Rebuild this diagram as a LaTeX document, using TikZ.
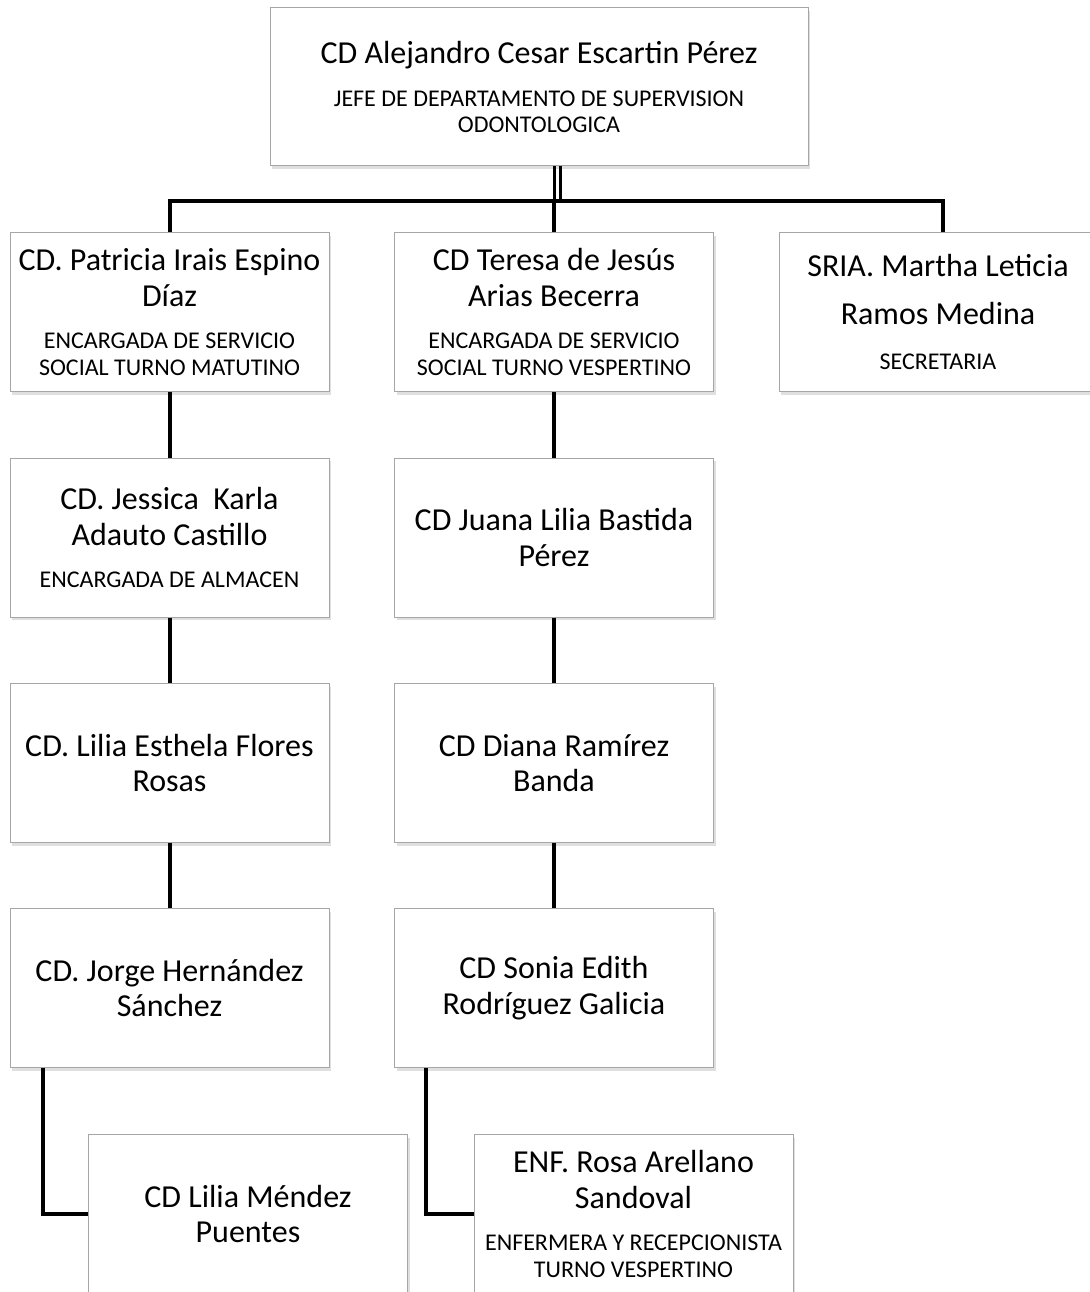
\documentclass[tikz,border=0pt]{standalone}
\usepackage{fontspec}
\setmainfont{Carlito}
\usepackage{tikz}
\usetikzlibrary{shadows}

\newcommand{\nombre}{\fontsize{32}{35.5}\selectfont}
\newcommand{\rol}[1]{\par\vspace{16pt}{\fontsize{24}{26.5}\selectfont #1\par}}

\begin{document}
\begin{tikzpicture}[x=1pt,y=-1pt,
    caja/.style={draw=gray!70, line width=1pt, fill=white, inner sep=0pt,
        minimum width=319pt, minimum height=159pt, text width=312pt, align=flush center,
        font=\nombre, drop shadow={opacity=0.25, shadow xshift=2pt, shadow yshift=-3pt}},
    linea/.style={line width=4pt, black}]
    \useasboundingbox (0,0) rectangle (1089,1292);

    % jefe
    \node[caja, minimum width=538pt, minimum height=158pt, text width=520pt] (jefe) at (539,87)
        {CD Alejandro Cesar Escartin Pérez\rol{JEFE DE DEPARTAMENTO DE SUPERVISION\\ODONTOLOGICA}};

    % primer nivel
    \node[caja] (patricia) at (169.5,312) {CD. Patricia Irais Espino\\Díaz\rol{ENCARGADA DE SERVICIO\\SOCIAL TURNO MATUTINO}};
    \node[caja] (teresa) at (554,312) {CD Teresa de Jesús\\Arias Becerra\rol{ENCARGADA DE SERVICIO\\SOCIAL TURNO VESPERTINO}};
    \node[caja, minimum width=318pt] (martha) at (938,312)
        {{\fontsize{32}{48}\selectfont SRIA. Martha Leticia\\Ramos Medina\par}\vspace{19pt}{\fontsize{24}{26.5}\selectfont SECRETARIA\par}};

    % columna izquierda
    \node[caja] (jessica) at (169.5,537.5) {CD. Jessica~ Karla\\Adauto Castillo\rol{ENCARGADA DE ALMACEN}};
    \node[caja] (lilia) at (169.5,763) {CD. Lilia Esthela Flores\\Rosas};
    \node[caja] (jorge) at (169.5,988) {CD. Jorge Hernández\\Sánchez};
    \node[caja] (mendez) at (248,1214) {CD Lilia Méndez\\Puentes};

    % columna central
    \node[caja] (juana) at (554,537.5) {CD Juana Lilia Bastida\\Pérez};
    \node[caja] (diana) at (554,763) {CD Diana Ramírez\\Banda};
    \node[caja] (sonia) at (554,988) {CD Sonia Edith\\Rodríguez Galicia};
    \node[caja] (rosa) at (633.5,1214) {ENF. Rosa Arellano\\Sandoval\rol{ENFERMERA Y RECEPCIONISTA\\TURNO VESPERTINO}};

    % lineas
    \coordinate (bus) at (554,201);
    \draw[line width=3pt] ([xshift=15pt]jefe.south) -- ([xshift=15pt]jefe.south |- bus);
    \draw[line width=3pt] ([xshift=21pt]jefe.south) -- ([xshift=21pt]jefe.south |- bus);
    \draw[linea] (patricia.north) |- (bus) -| ([xshift=5pt]martha.north);
    \draw[linea] (bus) -- (teresa.north);
    \draw[linea] (patricia) -- (jessica);
    \draw[linea] (jessica) -- (lilia);
    \draw[linea] (lilia) -- (jorge);
    \draw[linea] (teresa) -- (juana);
    \draw[linea] (juana) -- (diana);
    \draw[linea] (diana) -- (sonia);
    \draw[linea] ([xshift=33pt]jorge.south west) |- (mendez.west);
    \draw[linea] ([xshift=32pt]sonia.south west) |- (rosa.west);
\end{tikzpicture}
\end{document}
